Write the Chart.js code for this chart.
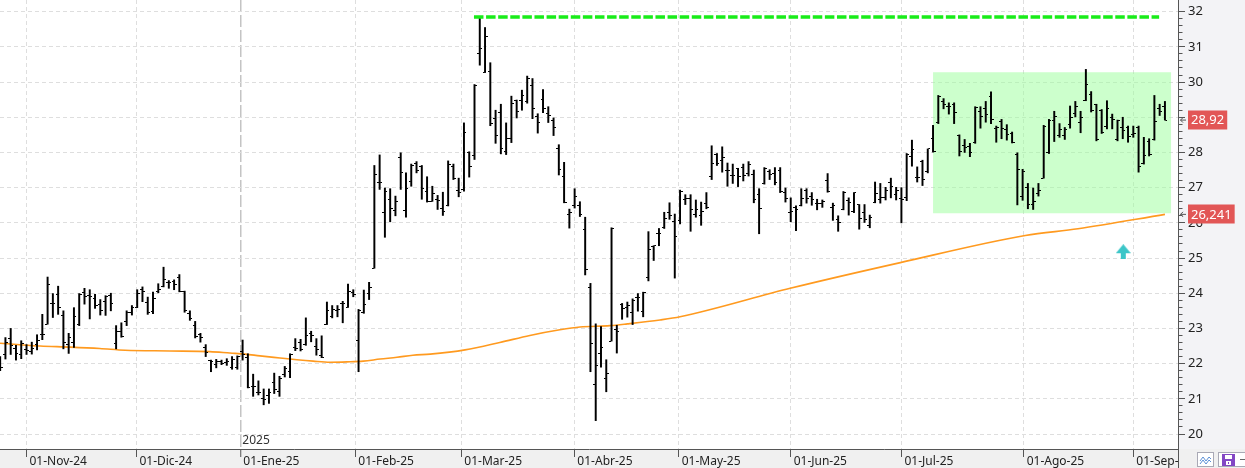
<!DOCTYPE html>
<html><head><meta charset="utf-8">
<script src="https://cdn.jsdelivr.net/npm/chart.js@4.4.1/dist/chart.umd.min.js"></script>
<style>html,body{margin:0;padding:0;background:#fff;}canvas{display:block;}</style>
</head><body>
<canvas id="c" width="1245" height="468"></canvas>
<script>
// ---- data (trading-day index 0 = 01-Nov-24) ----
const firstBarIdx = -5;
const openV = [
22.00,22.25,22.71,22.44,22.26,22.39,22.35,22.54,22.82,23.12,
23.71,23.95,23.37,22.54,22.61,23.10,24.03,23.93,23.84,23.67,
23.76,23.93,22.56,22.90,23.20,23.46,23.59,24.12,23.74,23.48,
24.06,24.20,24.31,24.33,24.46,24.04,23.42,23.08,22.82,22.46,
22.08,21.97,22.05,22.04,21.90,21.90,22.35,22.16,21.36,21.19,
21.00,21.10,21.45,21.20,21.70,21.77,22.45,22.60,22.54,22.85,
22.50,22.22,23.11,23.35,23.52,23.70,23.60,24.03,22.66,23.45,
23.99,24.71,27.16,26.30,26.65,26.36,27.85,26.35,27.18,27.70,
27.60,26.88,26.61,26.65,26.42,26.48,27.59,26.91,26.95,28.00,
27.90,30.80,30.27,30.30,28.97,29.14,28.03,28.40,29.48,29.49,
29.46,29.90,29.03,29.50,29.10,28.92,28.12,27.33,26.23,26.48,
26.48,25.80,24.16,21.40,22.28,21.57,22.64,22.96,23.67,23.60,
23.45,23.88,23.47,24.45,25.33,25.70,25.86,26.30,26.05,26.08,
26.67,26.69,26.25,26.20,26.54,27.33,27.93,27.76,27.48,27.35,
27.53,27.57,27.40,27.36,26.80,27.12,27.45,27.40,27.50,26.85,
26.30,26.45,26.50,26.91,26.76,26.54,26.55,27.20,26.45,26.10,
26.37,26.63,26.31,26.52,26.30,25.93,26.59,26.65,26.71,27.14,
26.80,26.68,26.72,27.88,27.30,27.74,27.46,28.40,28.84,29.45,
29.30,29.35,28.48,28.20,28.16,28.27,29.17,29.24,29.60,28.67,
28.88,28.65,28.54,27.95,26.75,27.00,26.51,26.82,27.27,28.00,
28.90,28.47,28.47,28.80,29.10,28.84,29.49,29.64,29.35,29.20,
28.75,29.00,28.38,28.70,28.70,28.50,28.70,27.70,28.30,28.37,
29.25,29.30];
const highV = [
22.20,22.74,23.00,22.52,22.65,22.54,22.61,22.82,23.40,24.46,
23.99,24.20,23.50,22.86,23.59,23.99,24.14,24.10,23.97,23.82,
23.93,24.00,23.08,23.16,23.50,23.65,24.10,24.18,23.89,24.03,
24.27,24.74,24.36,24.38,24.53,24.06,23.50,23.20,22.86,22.54,
22.10,22.12,22.10,22.14,22.20,22.22,22.67,22.28,21.70,21.51,
21.28,21.28,21.73,21.64,21.92,22.28,22.71,22.69,23.30,22.92,
22.71,22.79,23.75,23.65,23.65,23.77,24.26,24.10,23.54,24.09,
24.31,27.63,27.93,26.99,26.97,26.76,27.99,27.42,27.67,27.74,
27.63,27.31,27.04,26.78,26.87,27.76,27.67,27.27,28.84,28.02,
29.93,31.86,31.55,30.55,29.20,29.37,28.84,29.60,29.49,29.77,
30.17,30.10,29.10,29.79,29.30,28.98,28.22,27.72,26.39,26.97,
26.60,26.16,24.28,23.13,23.05,22.11,25.86,23.09,23.71,23.75,
23.84,23.99,24.03,25.75,25.35,25.84,26.30,26.57,26.25,26.93,
26.80,26.80,26.65,26.59,26.86,28.19,27.97,28.16,27.70,27.67,
27.55,27.67,27.74,27.50,26.97,27.57,27.51,27.57,27.57,26.99,
26.71,26.48,26.97,26.97,26.86,26.67,26.65,27.40,26.56,26.20,
26.89,26.71,26.86,26.52,26.52,26.22,27.16,27.12,27.01,27.27,
27.01,27.00,27.97,28.35,27.59,27.78,28.10,28.77,29.62,29.53,
29.41,29.41,28.50,28.37,28.26,29.30,29.30,29.45,29.72,28.75,
28.94,28.79,28.58,27.99,27.52,27.12,26.99,27.12,28.77,28.94,
29.17,28.82,28.71,29.32,29.45,29.17,30.36,29.73,29.37,29.22,
29.47,29.09,28.92,29.00,28.75,28.75,28.75,28.43,28.39,29.62,
29.37,29.45];
const lowV = [
21.80,22.13,22.26,22.10,22.14,22.26,22.27,22.39,22.68,23.12,
23.31,23.40,22.42,22.29,22.46,23.08,23.69,23.27,23.57,23.38,
23.37,23.50,22.42,22.75,23.08,23.38,23.59,23.76,23.40,23.42,
24.01,24.18,24.14,24.10,24.04,23.46,23.23,22.73,22.61,22.20,
21.77,21.88,21.97,21.95,21.84,21.84,22.10,21.31,21.07,21.11,
20.83,20.87,21.15,21.07,21.62,21.60,22.37,22.36,22.52,22.62,
22.24,22.17,23.11,23.30,23.33,23.16,23.60,23.90,21.77,23.43,
23.82,24.71,26.95,25.59,26.03,26.20,26.95,26.16,27.04,27.42,
26.67,26.59,26.61,26.38,26.21,26.48,27.23,26.74,26.90,27.30,
27.80,30.48,30.27,28.76,28.26,27.96,27.94,28.28,28.98,29.20,
29.40,28.96,28.55,29.13,28.85,28.48,27.36,26.57,25.85,26.42,
26.18,24.52,21.77,20.38,21.90,21.20,22.64,22.30,23.26,23.32,
23.11,23.49,23.33,24.35,24.93,25.35,25.84,26.10,24.43,25.97,
26.52,25.76,26.16,25.93,26.40,27.23,27.63,27.44,27.04,27.12,
27.03,27.19,27.33,26.57,25.69,27.10,27.23,27.08,26.86,26.59,
26.03,25.78,26.48,26.56,26.50,26.37,26.44,26.87,26.07,25.76,
26.37,26.22,26.29,25.82,26.01,25.86,26.57,26.56,26.65,26.71,
26.65,26.00,26.63,27.61,27.16,27.06,27.42,28.01,28.82,29.24,
29.09,28.82,27.90,28.00,27.88,28.26,28.69,28.86,28.82,28.29,
28.39,28.35,28.27,26.51,26.64,26.40,26.38,26.76,27.27,27.97,
28.31,28.43,28.37,28.69,29.01,28.56,29.47,29.15,28.33,28.54,
28.67,28.67,28.33,28.39,28.29,28.43,27.44,27.67,27.90,28.35,
29.05,28.92];
const closeV = [
21.88,22.61,22.52,22.29,22.56,22.37,22.44,22.67,22.82,24.25,
23.71,23.59,22.60,22.73,23.33,23.95,23.91,23.91,23.65,23.52,
23.91,23.72,22.91,22.76,23.46,23.59,24.00,24.04,23.46,23.86,
24.12,24.40,24.31,24.25,24.06,23.50,23.29,22.78,22.73,22.33,
22.07,22.07,22.00,22.06,22.13,22.20,22.26,21.33,21.34,21.17,
20.98,21.17,21.26,21.58,21.85,22.26,22.43,22.40,22.80,22.80,
22.39,22.18,23.52,23.54,23.54,23.70,24.05,23.97,23.50,23.67,
24.16,27.36,27.14,26.90,26.42,26.61,27.44,26.99,27.63,27.50,
26.99,26.61,26.84,26.63,26.31,27.65,27.25,26.86,28.58,27.60,
29.90,30.95,31.30,28.82,28.48,28.12,28.40,29.39,29.17,29.62,
30.10,29.25,28.85,29.25,29.05,28.70,27.51,26.59,26.29,26.74,
26.25,24.67,22.58,21.94,22.47,21.71,25.84,22.90,23.58,23.65,
23.80,23.88,24.01,25.24,25.35,25.70,26.12,26.22,25.61,26.89,
26.70,26.39,26.39,26.33,26.44,27.68,27.68,27.87,27.48,27.35,
27.31,27.35,27.65,26.67,26.42,27.55,27.36,27.16,26.88,26.70,
26.33,26.38,26.70,26.70,26.67,26.54,26.62,26.90,26.48,26.00,
26.86,26.57,26.86,26.12,26.10,26.16,26.84,26.72,26.91,27.03,
26.91,26.67,27.93,28.09,27.30,27.23,28.10,28.03,29.60,29.36,
29.30,29.13,28.03,28.14,28.00,29.28,29.01,29.09,28.94,28.71,
28.67,28.50,28.29,27.52,27.46,26.51,26.62,26.91,28.75,28.92,
29.03,28.64,28.65,29.00,29.32,29.00,29.94,29.18,28.37,28.56,
29.24,28.94,28.90,28.62,28.46,28.54,27.59,27.90,27.93,28.88,
29.15,28.92];

// moving average, read at selected points
const maIdx = [-5.03,-0.7,2.6,8.3,13.9,18.7,27.2,34.8,38.6,41.5,44.3,48.1,51.3,54.4,57.6,60.8,63.9,67.1,70.3,73.3,76.6,83.2,89.8,95.5,101.2,105,110.7,114,120.2,124,144.9,165.8,189.5,199.5,216];
const maVal = [22.58,22.53,22.50,22.47,22.43,22.38,22.36,22.34,22.30,22.27,22.22,22.16,22.11,22.07,22.04,22.05,22.07,22.13,22.18,22.24,22.27,22.39,22.60,22.80,22.96,23.04,23.08,23.13,23.24,23.33,24.14,24.87,25.64,25.83,26.241];

// x axis month ticks
const monthTickIdx = [0,20.85,40.57,62.39,82.5,103.95,123.74,144.99,166.0,189.2,210.0];
const monthTickLabels = ['01-Nov-24','01-Dic-24','01-Ene-25','01-Feb-25','01-Mar-25','01-Abr-25','01-May-25','01-Jun-25','01-Jul-25','01-Ago-25','01-Sep-25'];
const yearTickIdx = 40.57;
const yearLabel = '2025';
const yMajorTicks = [20,21,22,23,24,25,26,27,28,29,30,31,32];
const yMinorStep = 0.2;
const xMin = -5.03, xMax = 218.48;
const yMin = 19.574, yMax = 32.332;

// annotations
const resistanceLevel = 31.85, resistanceFrom = 84.9, resistanceTo = 214.9;
const rangeFrom = 172.0, rangeTo = 217.2, rangeLow = 26.27, rangeHigh = 30.28;
const arrowIdx = 208.1, arrowVal = 25.18;
const priceTag = 28.92, priceTagText = '28,92';
const maTag = 26.241, maTagText = '26,241';

// ---- build ----
const FONT = "'Noto Sans','Liberation Sans',sans-serif";
Chart.defaults.font.family = FONT;
const hlData = openV.map((_, k) => ({x: firstBarIdx + k, y: [lowV[k], highV[k]]}));
const openData = openV.map((v, k) => ({x: firstBarIdx + k, y: v}));
const closeData = closeV.map((v, k) => ({x: firstBarIdx + k, y: v}));
const maData = maIdx.map((x, k) => ({x, y: maVal[k]}));

function tickImg(left) {
  const c = document.createElement('canvas'); c.width = 5; c.height = 1;
  const g = c.getContext('2d'); g.fillStyle = '#000';
  g.fillRect(left ? 0 : 3, 0, 2, 1); return c;
}
function arrowImg() {
  const c = document.createElement('canvas'); c.width = 15; c.height = 15;
  const g = c.getContext('2d'); g.fillStyle = '#3cc6c8';
  g.beginPath(); g.moveTo(7.5, 0); g.lineTo(15, 9); g.lineTo(0, 9); g.closePath(); g.fill();
  g.fillRect(5, 9, 5, 6); return c;
}
const yTicksAll = [];
for (let v = yMajorTicks[0]; v <= yMajorTicks[yMajorTicks.length - 1] + 1e-9; v += yMinorStep) yTicksAll.push(Math.round(v * 10) / 10);
const isMajor = v => Math.abs(v - Math.round(v)) < 1e-6;
const isYear = c => c.tick && Math.abs(c.tick.value - yearTickIdx) < 1e-6;

const decor = {
  id: 'decor',
  beforeDraw(chart) {
    const {ctx, chartArea: a, width, height} = chart;
    ctx.save();
    ctx.fillStyle = '#ffffff'; ctx.fillRect(0, 0, width, height);
    ctx.fillStyle = '#f3f3f6'; ctx.fillRect(a.right, 0, width - a.right, a.bottom);
    ctx.fillStyle = '#f0f0f0'; ctx.fillRect(0, a.bottom, width, height - a.bottom);
    ctx.restore();
  },
  afterDraw(chart) {
    const {ctx, chartArea: a, width, height, scales} = chart;
    const ys = scales.y, xs = scales.x;
    ctx.save();
    // bottom-right corner panel
    ctx.fillStyle = '#f0f0f0'; ctx.fillRect(a.right + 1, a.bottom + 1, width - a.right, height - a.bottom);
    ctx.strokeStyle = '#555'; ctx.lineWidth = 1;
    ctx.beginPath(); ctx.moveTo(a.right + 0.5, a.bottom); ctx.lineTo(a.right + 0.5, height); ctx.stroke();
    // icons
    ctx.fillStyle = '#fff'; ctx.strokeStyle = '#a9a9b5';
    ctx.fillRect(1197, 452, 17, 15); ctx.strokeRect(1197.5, 452.5, 16, 14);
    ctx.fillRect(1218, 452, 30, 15); ctx.strokeRect(1218.5, 452.5, 30, 14);
    ctx.strokeStyle = '#5b8fd6'; ctx.lineWidth = 1;
    ctx.beginPath(); ctx.moveTo(1200, 461); ctx.lineTo(1203, 457); ctx.lineTo(1206, 461); ctx.lineTo(1209, 457); ctx.lineTo(1211, 459); ctx.stroke();
    ctx.beginPath(); ctx.moveTo(1200, 464); ctx.lineTo(1203, 460); ctx.lineTo(1206, 464); ctx.lineTo(1209, 460); ctx.lineTo(1211, 462); ctx.stroke();
    ctx.fillStyle = '#8347c4'; ctx.fillRect(1222, 454, 13, 12);
    ctx.fillStyle = '#fff'; ctx.fillRect(1225, 455, 7, 4); ctx.fillRect(1226, 461, 5, 4);
    ctx.fillStyle = '#8347c4'; ctx.fillRect(1228, 462, 1, 2);
    ctx.fillStyle = '#666'; ctx.fillRect(1240, 459, 5, 1);
    // year label
    ctx.fillStyle = '#333'; ctx.font = '12px ' + FONT; ctx.textBaseline = 'middle'; ctx.textAlign = 'left';
    ctx.fillText(yearLabel, xs.getPixelForValue(yearTickIdx) + 2, 441);
    // value tags
    ctx.font = '13px ' + FONT;
    [[priceTag, priceTagText], [maTag, maTagText]].forEach(([v, t]) => {
      const y = ys.getPixelForValue(v);
      const w = ctx.measureText(t).width + 6;
      ctx.fillStyle = '#e25656'; ctx.fillRect(a.right + 10, Math.round(y) - 9.5, w, 19);
      ctx.fillStyle = '#fff'; ctx.fillText(t, a.right + 13, y + 0.5);
      ctx.strokeStyle = '#555'; ctx.lineWidth = 1;
      ctx.beginPath(); ctx.moveTo(a.right + 8, y); ctx.lineTo(a.right + 2.5, y);
      ctx.moveTo(a.right + 5, y - 2.5); ctx.lineTo(a.right + 2.5, y); ctx.lineTo(a.right + 5, y + 2.5); ctx.stroke();
    });
    ctx.restore();
  }
};

new Chart(document.getElementById('c'), {
  type: 'line',
  data: {datasets: [
    {type: 'line', data: [{x: rangeFrom, y: rangeLow}, {x: rangeTo, y: rangeLow}], borderWidth: 0, pointRadius: 0,
     fill: {value: rangeHigh}, backgroundColor: 'rgba(153,255,153,0.5)', order: 30},
    {type: 'line', data: maData, borderColor: '#ff9a1f', borderWidth: 1.6, pointRadius: 0, fill: false,
     cubicInterpolationMode: 'monotone', order: 20},
    {type: 'bar', data: hlData, backgroundColor: '#000', borderWidth: 0, barThickness: 1.3, grouped: false, order: 5},
    {type: 'scatter', data: openData, pointStyle: tickImg(true), pointRadius: 2, order: 4},
    {type: 'scatter', data: closeData, pointStyle: tickImg(false), pointRadius: 2, order: 4},
    {type: 'line', data: [{x: resistanceFrom, y: resistanceLevel}, {x: resistanceTo, y: resistanceLevel}],
     borderColor: '#19ec19', borderWidth: 3.5, borderDash: [9.5, 2.6], borderCapStyle: 'butt', pointRadius: 0, fill: false, order: 2},
    {type: 'scatter', data: [{x: arrowIdx, y: arrowVal}], pointStyle: arrowImg(), pointRadius: 3, order: 1}
  ]},
  options: {
    responsive: false, animation: false, events: [],
    layout: {padding: 0, autoPadding: false},
    plugins: {legend: {display: false}, tooltip: {enabled: false}},
    scales: {
      x: {
        type: 'linear', min: xMin, max: xMax, offset: false,
        afterBuildTicks: s => { s.ticks = monthTickIdx.map(v => ({value: v})); },
        afterFit: s => { s.height = 19; s.paddingLeft = 0; s.paddingRight = 0; s.paddingTop = 0; s.paddingBottom = 0; },
        ticks: {autoSkip: false, maxRotation: 0, align: 'start', labelOffset: 3, padding: -3,
                color: '#222', font: {size: 12}, callback: (v, i) => monthTickLabels[i]},
        grid: {offset: false, tickLength: 8, tickColor: '#555', tickWidth: 1, tickBorderDash: [],
               color: c => isYear(c) ? '#c4c4c4' : '#dedede',
               lineWidth: c => isYear(c) ? 1.5 : 1},
        border: {color: '#555', width: 1, dash: c => isYear(c) ? [12, 3] : [4, 3]}
      },
      y: {
        type: 'linear', position: 'right', min: yMin, max: yMax,
        afterBuildTicks: s => { s.ticks = yTicksAll.map(v => ({value: v})); },
        afterFit: s => { s.width = 67; s.paddingTop = 0; s.paddingBottom = 0; s.paddingLeft = 0; s.paddingRight = 0; },
        ticks: {autoSkip: false, padding: 3, color: '#222', font: {size: 13},
                callback: v => isMajor(v) ? String(Math.round(v)) : ''},
        grid: {tickLength: 7, tickColor: '#555', tickWidth: 1,
               tickBorderDash: c => (c.tick && isMajor(c.tick.value)) ? [] : [3.5, 20],
               color: c => (c.tick && isMajor(c.tick.value)) ? '#dedede' : 'rgba(0,0,0,0)'},
        border: {color: '#555', width: 1, dash: [4, 3]}
      }
    }
  },
  plugins: [decor]
});
</script>
</body></html>
